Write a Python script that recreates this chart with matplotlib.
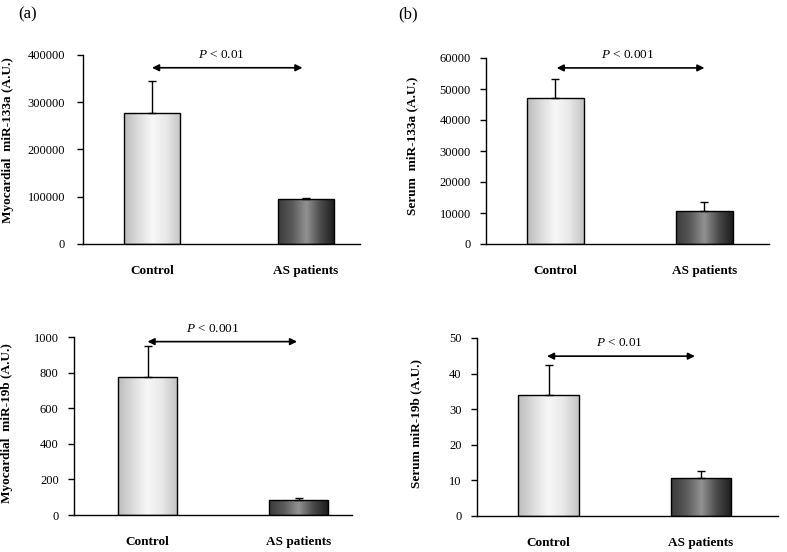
import matplotlib
matplotlib.use("Agg")
import matplotlib.pyplot as plt
import numpy as np
from matplotlib.colors import LinearSegmentedColormap

plt.rcParams['font.family'] = ['Liberation Serif', 'DejaVu Serif']
plt.rcParams['mathtext.fontset'] = 'custom'
plt.rcParams['mathtext.it'] = 'Liberation Serif:italic'
plt.rcParams['mathtext.rm'] = 'Liberation Serif'

categories = ["Control", "AS patients"]

myo133_means = [278000, 95000]
myo133_upper = [346000, 96500]
ser133_means = [47200, 10500]
ser133_upper = [53200, 13700]
myo19_means = [775, 82]
myo19_upper = [947, 93]
ser19_means = [33.9, 10.6]
ser19_upper = [42.3, 12.7]

p_labels = ["< 0.01", "< 0.001", "< 0.001", "< 0.01"]
ylabels = ["Myocardial  miR-133a (A.U.)", "Serum  miR-133a (A.U.)",
           "Myocardial  miR-19b (A.U.)", "Serum miR-19b (A.U.)"]
yticks_list = [[0, 100000, 200000, 300000, 400000],
               [0, 10000, 20000, 30000, 40000, 50000, 60000],
               [0, 200, 400, 600, 800, 1000],
               [0, 10, 20, 30, 40, 50]]

W, H = 787, 552
fig = plt.figure(figsize=(W / 100, H / 100), dpi=100)

cmap_light = LinearSegmentedColormap.from_list(
    "light", ["#bcbcbc", "#dcdcdc", "#f8f8f8", "#e8e8e8", "#c4c4c4"])
cmap_dark = LinearSegmentedColormap.from_list(
    "dark", ["#3a3a3a", "#5a5a5a", "#929292", "#4a4a4a", "#1c1c1c"])

panels = [
    dict(box=(83, 360, 55, 244), xlim=(-0.45, 1.355), bw=0.365, means=myo133_means,
         upper=myo133_upper, arrow=(0.0, 0.98, 373000), px=0.455, ylx=14, yly=0.55, pad=9),
    dict(box=(486, 769, 58, 244), xlim=(-0.464, 1.433), bw=0.38, means=ser133_means,
         upper=ser133_upper, arrow=(0.01, 1.0, 56800), px=0.488, ylx=418, yly=0.527, pad=7),
    dict(box=(74, 352, 337, 515), xlim=(-0.487, 1.354), bw=0.39, means=myo19_means,
         upper=myo19_upper, arrow=(0.0, 0.99, 974), px=0.433, ylx=13, yly=0.517, pad=7),
    dict(box=(477, 778, 338, 516), xlim=(-0.469, 1.505), bw=0.40, means=ser19_means,
         upper=ser19_upper, arrow=(-0.01, 0.96, 44.9), px=0.468, ylx=422, yly=0.517, pad=7),
]

for i, p in enumerate(panels):
    l, r, t, b = p['box']
    ax = fig.add_axes([l / W, 1 - b / H, (r - l) / W, (b - t) / H])
    yt = yticks_list[i]
    x = np.arange(len(categories))
    bars = ax.bar(x, p['means'], width=p['bw'], facecolor='none', edgecolor='black',
                  linewidth=1.0, zorder=3)
    for bar, cm in zip(bars, [cmap_light, cmap_dark]):
        x0 = bar.get_x()
        w = bar.get_width()
        h = bar.get_height()
        grad = np.linspace(0, 1, 256).reshape(1, -1)
        im = ax.imshow(grad, cmap=cm, aspect='auto', extent=(x0, x0 + w, 0, h),
                       zorder=2, interpolation='bicubic')
        im.set_clip_path(bar)
    ax.set_xlim(*p['xlim'])
    ax.set_ylim(0, yt[-1])
    err = np.array(p['upper']) - np.array(p['means'])
    ax.errorbar(x, p['means'], yerr=[np.zeros_like(err), err], fmt='none',
                ecolor='black', elinewidth=1.0, capsize=3, capthick=1.0, zorder=4)
    ax.spines['top'].set_visible(False)
    ax.spines['right'].set_visible(False)
    ax.spines['left'].set_linewidth(1.0)
    ax.spines['bottom'].set_linewidth(1.0)
    ax.set_yticks(yt)
    ax.set_yticklabels([str(v) for v in yt], fontsize=9)
    ax.tick_params(axis='y', direction='out', length=4, width=1, pad=p['pad'])
    ax.set_xticks(x)
    ax.set_xticklabels(categories, fontsize=9.5, fontweight='bold')
    ax.tick_params(axis='x', length=0, pad=15)
    ax.set_ylabel(ylabels[i], fontsize=9.5, fontweight='bold')
    ax.yaxis.set_label_coords((p['ylx'] - l) / (r - l), p['yly'])
    x1, x2, ya = p['arrow']
    ax.annotate('', xy=(x2, ya), xytext=(x1, ya),
                arrowprops=dict(arrowstyle='<|-|>', color='black', lw=1.2,
                                mutation_scale=10, shrinkA=0, shrinkB=0),
                annotation_clip=False)
    ax.annotate(r'$\it{P}$ ' + p_labels[i], xy=(p['px'], ya), xytext=(0, 5),
                textcoords='offset points', ha='center', va='bottom', fontsize=9.5,
                annotation_clip=False)

fig.text(28 / W, 1 - 14 / H, "(a)", fontsize=12, ha='center', va='center')
fig.text(408 / W, 1 - 14 / H, "(b)", fontsize=12, ha='center', va='center')

fig.savefig("out.png", dpi=100)
